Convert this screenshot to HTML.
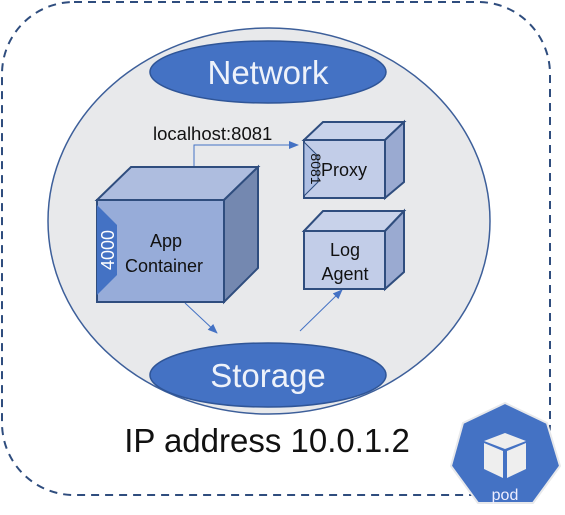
<!DOCTYPE html>
<html><head><meta charset="utf-8"><style>
html,body{margin:0;padding:0;background:#fff;}
svg{display:block;}
text{font-family:"Liberation Sans","DejaVu Sans",sans-serif;}
</style></head><body>
<svg width="565" height="515" viewBox="0 0 565 515" xmlns="http://www.w3.org/2000/svg">
<defs>
<marker id="ar" markerWidth="10" markerHeight="8" refX="9" refY="4" orient="auto" markerUnits="userSpaceOnUse">
<path d="M0,0 L10,4 L0,8 Z" fill="#4472c4"/></marker>
</defs>
<rect x="2" y="2" width="548" height="493" rx="72" fill="#fff" stroke="#2f4d7e" stroke-width="2" stroke-dasharray="8,6"/>
<ellipse cx="269" cy="221" rx="221" ry="193" fill="#e8e9eb" stroke="#3d5f9a" stroke-width="1.5"/>
<ellipse cx="268" cy="72" rx="118" ry="31" fill="#4472c4" stroke="#2f5597" stroke-width="1.5"/>
<text x="268" y="84" font-size="33" fill="#eef2fa" text-anchor="middle">Network</text>
<ellipse cx="268" cy="375" rx="118" ry="32" fill="#4472c4" stroke="#2f5597" stroke-width="1.5"/>
<text x="268" y="387" font-size="33" fill="#eef2fa" text-anchor="middle">Storage</text>
<polyline points="194,167 194,145 298,145" fill="none" stroke="#4472c4" stroke-width="1" marker-end="url(#ar)"/>
<text x="153" y="140" font-size="18.5" fill="#111">localhost:8081</text>
<line x1="185" y1="303" x2="217" y2="333" stroke="#4472c4" stroke-width="1" marker-end="url(#ar)"/>
<line x1="300" y1="331" x2="342" y2="290" stroke="#4472c4" stroke-width="1" marker-end="url(#ar)"/>
<polygon points="97,200 131,167 258,167 224,200" fill="#aebddf" stroke="#2f4d7e" stroke-width="2"/>
<polygon points="224,200 258,167 258,268 224,302" fill="#7488b0" stroke="#2f4d7e" stroke-width="2"/>
<rect x="97" y="200" width="127" height="102" fill="#97acd9" stroke="#2f4d7e" stroke-width="2"/>
<polygon points="97,205 117,225 117,275 97,295" fill="#4472c4"/>
<text transform="translate(114,250) rotate(-90)" font-size="18" fill="#fff" text-anchor="middle">4000</text>
<text x="166" y="247" font-size="18" fill="#111" text-anchor="middle">App</text>
<text x="164" y="272" font-size="18" fill="#111" text-anchor="middle">Container</text>
<polygon points="304,140 323,122 404,122 385,140" fill="#c8d2ea" stroke="#2f4d7e" stroke-width="2"/>
<polygon points="385,140 404,122 404,182 385,198" fill="#9aaad1" stroke="#2f4d7e" stroke-width="2"/>
<rect x="304" y="140" width="81" height="58" fill="#c2cde8" stroke="#2f4d7e" stroke-width="2"/>
<polygon points="304,142 318,156 318,182 304,196" fill="#aebfe3" stroke="#2f4d7e" stroke-width="1"/>
<text transform="translate(311,169) rotate(90)" font-size="14" fill="#111" text-anchor="middle">8081</text>
<text x="344" y="176" font-size="18" fill="#111" text-anchor="middle">Proxy</text>
<polygon points="304,231 323,211 404,211 385,231" fill="#c8d2ea" stroke="#2f4d7e" stroke-width="2"/>
<polygon points="385,231 404,211 404,272 385,289" fill="#9aaad1" stroke="#2f4d7e" stroke-width="2"/>
<rect x="304" y="231" width="81" height="58" fill="#c2cde8" stroke="#2f4d7e" stroke-width="2"/>
<text x="345" y="256" font-size="18" fill="#111" text-anchor="middle">Log</text>
<text x="345" y="280" font-size="18" fill="#111" text-anchor="middle">Agent</text>
<text x="267" y="452" font-size="33" fill="#111" text-anchor="middle">IP address 10.0.1.2</text>
<polygon points="505,403 547,423 560,466 533,503 478,503 451,466 463,423" fill="#4472c4" stroke="#e8e9eb" stroke-width="2" stroke-linejoin="round"/>
<polygon points="484,441 505,433 526,441 505,449" fill="#eeeeee"/>
<polygon points="484,443 503,451 503,478 484,469" fill="#eeeeee"/>
<polygon points="507,451 526,443 526,469 507,478" fill="#eeeeee"/>
<text x="505" y="500" font-size="16" fill="#eef" text-anchor="middle">pod</text>
</svg>
</body></html>
